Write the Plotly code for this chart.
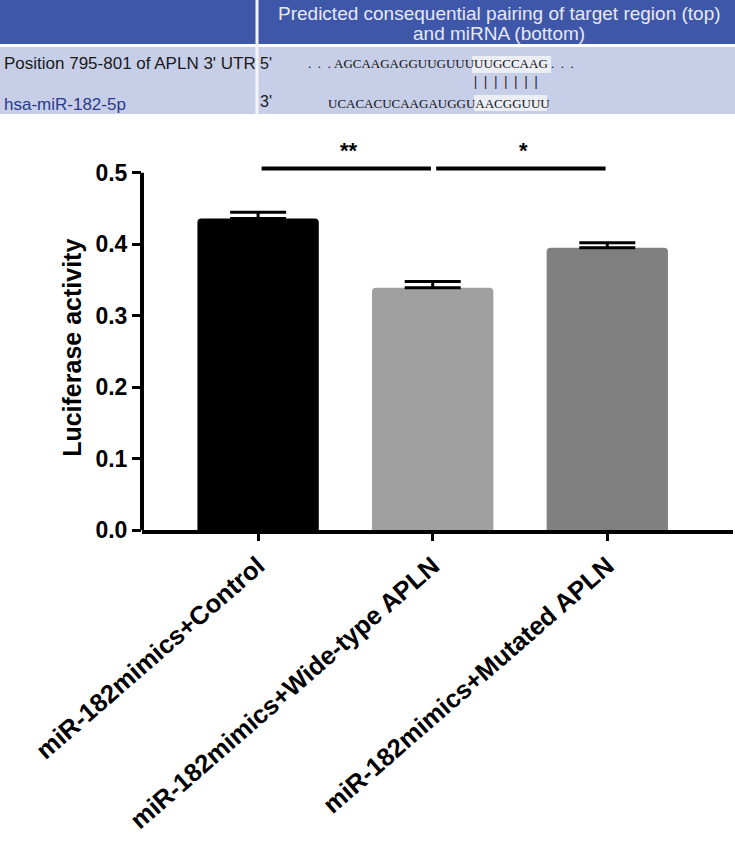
import plotly.graph_objects as go

# ---------------- data ----------------
categories = ["miR-182mimics+Control", "miR-182mimics+Wide-type APLN", "miR-182mimics+Mutated APLN"]
values = [0.436, 0.339, 0.395]
errors = [0.009, 0.009, 0.007]
bar_colors = ["#000000", "#a0a0a0", "#808080"]
y_ticks = [0.0, 0.1, 0.2, 0.3, 0.4, 0.5]
y_tick_labels = ["0.0", "0.1", "0.2", "0.3", "0.4", "0.5"]
y_title = "Luciferase activity"
sig_pairs = [(0, 1, "**"), (1, 2, "*")]
sig_level = 0.506
star_level = 0.531

table_header_lines = ["Predicted consequential pairing of target region (top)", "and miRNA (bottom)"]
row_label_top = "Position 795-801 of APLN 3' UTR"
row_label_bottom = "hsa-miR-182-5p"
seq_top = "...AGCAAGAGGUUGUUUUUGCCAAG..."
seq_bottom = "UCACACUCAAGAUGGUAACGGUUU"
pairing = "|||||||"

# ---------------- layout geometry ----------------
W, H = 735, 843
L, R, T, B = 142, 2, 130, 313
pw, ph = W - L - R, H - T - B


def px(xp):
    return (xp - L) / pw


def py(yp):
    return (H - B - yp) / ph


FONT = "Arial, Liberation Sans, sans-serif"
NARROW = "Liberation Sans Narrow, Arial Narrow, Liberation Sans, sans-serif"
SERIF = "Liberation Serif, Times New Roman, serif"

xs = list(range(len(categories)))

fig = go.Figure()
fig.add_trace(go.Bar(
    x=xs, y=values, width=0.695,
    marker=dict(color=bar_colors, line=dict(width=0), cornerradius=4),
    error_y=dict(type="data", symmetric=False, array=errors, arrayminus=[0] * len(errors),
                 color="black", thickness=3, width=28),
    showlegend=False, hoverinfo="skip",
))

shapes = []
annotations = []

# y axis line (only up to 0.5)
shapes.append(dict(type="line", xref="paper", yref="y", x0=0, x1=0, y0=0, y1=0.5,
                   line=dict(color="black", width=4)))

# y axis title
annotations.append(dict(x=px(72), y=0.255, xref="paper", yref="y", text="<b>" + y_title + "</b>",
                        textangle=-90, showarrow=False, xanchor="center", yanchor="middle",
                        font=dict(family=FONT, size=25, color="black")))

# significance bars
for a, b, lab in sig_pairs:
    shapes.append(dict(type="line", xref="x", yref="y", x0=a + 0.02, x1=b - 0.01,
                       y0=sig_level, y1=sig_level, line=dict(color="black", width=4)))
    annotations.append(dict(x=(a + b) / 2 + 0.02, y=star_level, xref="x", yref="y",
                            text="<b>" + lab + "</b>",
                            showarrow=False, font=dict(family=FONT, size=22, color="black")))

# ---------------- top table ----------------
header_blue = "#3f57a8"
row_blue = "#c7cee8"
shapes.append(dict(type="rect", xref="paper", yref="paper", x0=px(0), x1=px(735), y0=py(0), y1=py(44),
                   fillcolor=header_blue, line=dict(width=0), layer="below"))
shapes.append(dict(type="rect", xref="paper", yref="paper", x0=px(0), x1=px(735), y0=py(47), y1=py(114),
                   fillcolor=row_blue, line=dict(width=0), layer="below"))
shapes.append(dict(type="line", xref="paper", yref="paper", x0=px(257), x1=px(257), y0=py(0), y1=py(114),
                   line=dict(color="#f4f5fa", width=3)))
# highlighted pairing regions
shapes.append(dict(type="rect", xref="paper", yref="paper", x0=px(472), x1=px(551), y0=py(56), y1=py(73),
                   fillcolor="#eceef6", line=dict(width=0)))
shapes.append(dict(type="rect", xref="paper", yref="paper", x0=px(474), x1=px(547), y0=py(95), y1=py(111),
                   fillcolor="#eceef6", line=dict(width=0)))

for i, line in enumerate(table_header_lines):
    annotations.append(dict(x=px(499), y=py(13 + 20 * i), xref="paper", yref="paper", text=line,
                            showarrow=False, xanchor="center", yanchor="middle",
                            font=dict(family=NARROW, size=19, color="#e6e9f5")))
annotations.append(dict(x=px(2), y=py(63), xref="paper", yref="paper", text=row_label_top,
                        showarrow=False, xanchor="left", yanchor="middle",
                        font=dict(family=NARROW, size=17, color="#1a1a1a")))
annotations.append(dict(x=px(2), y=py(104), xref="paper", yref="paper", text=row_label_bottom,
                        showarrow=False, xanchor="left", yanchor="middle",
                        font=dict(family=NARROW, size=17, color="#2b3a8c")))
annotations.append(dict(x=px(258), y=py(63), xref="paper", yref="paper", text="5'",
                        showarrow=False, xanchor="left", yanchor="middle",
                        font=dict(family=NARROW, size=16, color="#1a1a1a")))
annotations.append(dict(x=px(258), y=py(102), xref="paper", yref="paper", text="3'",
                        showarrow=False, xanchor="left", yanchor="middle",
                        font=dict(family=NARROW, size=16, color="#1a1a1a")))

core_top = seq_top.strip(".")
nb = "\u00a0"
top_display = "." + nb * 2 + "." + nb * 2 + "." + nb + core_top + nb + "." + nb * 2 + "." + nb * 2 + "."
annotations.append(dict(x=px(306), y=py(64), xref="paper", yref="paper", text=top_display,
                        showarrow=False, xanchor="left", yanchor="middle",
                        font=dict(family=SERIF, size=13, color="#111111")))
annotations.append(dict(x=px(505.5), y=py(82), xref="paper", yref="paper",
                        text="<b>" + (nb * 2).join(pairing) + "</b>",
                        showarrow=False, xanchor="center", yanchor="middle",
                        font=dict(family=SERIF, size=14, color="#111111")))
annotations.append(dict(x=px(326), y=py(103), xref="paper", yref="paper", text=seq_bottom,
                        showarrow=False, xanchor="left", yanchor="middle",
                        font=dict(family=SERIF, size=13, color="#111111")))

fig.update_layout(
    width=W, height=H,
    margin=dict(l=L, r=R, t=T, b=B, autoexpand=False),
    paper_bgcolor="white", plot_bgcolor="white",
    font=dict(family=FONT, color="black"),
    shapes=shapes, annotations=annotations,
    xaxis=dict(
        range=[-0.665, 2.72], tickmode="array", tickvals=xs,
        ticktext=["<b>" + c + "</b>" for c in categories],
        tickangle=-41, tickfont=dict(family=FONT, size=25.5, color="black"),
        showline=True, linecolor="black", linewidth=4, ticks="outside", ticklen=7,
        tickwidth=3, tickcolor="black", showgrid=False, zeroline=False, automargin=False,
    ),
    yaxis=dict(
        range=[0, 0.56], tickmode="array", tickvals=y_ticks,
        ticktext=["<b>" + t + "</b>" for t in y_tick_labels],
        tickfont=dict(family=FONT, size=23, color="black"),
        showline=False, ticks="outside", ticklen=9, tickwidth=3, tickcolor="black",
        showgrid=False, zeroline=False, automargin=False,
    ),
)

fig.write_html("out.html", config={"displayModeBar": False},
               post_script="document.body.style.margin='0px';")
